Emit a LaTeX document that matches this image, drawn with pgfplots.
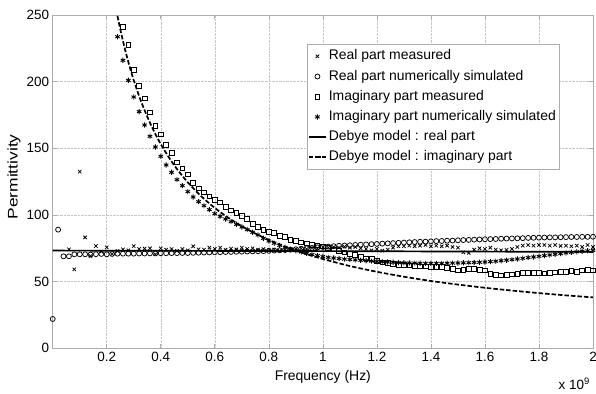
\documentclass[border=0pt]{standalone}
\usepackage{fontspec}
\setmainfont{Liberation Sans}
\usepackage{pgfplots}
\pgfplotsset{compat=1.18}
\begin{document}
\begin{tikzpicture}
\path[use as bounding box] (-52.7bp,-45.7bp) rectangle (543.3bp,348.3bp);
\begin{axis}[
  name=ax,
  at={(0,0)}, anchor=south west,
  scale only axis, width=540.3bp, height=333.3bp,
  xmin=0, xmax=2, ymin=0, ymax=250,
  xtick={0.2,0.4,0.6,0.8,1,1.2,1.4,1.6,1.8,2},
  xticklabels={0.2,0.4,0.6,0.8,1,1.2,1.4,1.6,1.8,2},
  ytick={0,50,100,150,200,250},
  scaled x ticks=false,
  tick align=inside,
  major tick length=4bp,
  grid=major,
  major grid style={gray!45, densely dotted, line width=0.5bp},
  axis line style={gray!65, line width=0.6bp},
  every tick/.style={gray!65, line width=0.6bp},
  /pgf/number format/assume math mode=true,
  tick label style={font=\fontsize{13.5}{15}\selectfont, black},
  xlabel={Frequency (Hz)},
  ylabel={\scalebox{1.25}[1]{Permittivity}},
  label style={font=\fontsize{14}{16}\selectfont},
  xlabel style={at={(axis description cs:0.5,-0.086)}, anchor=center},
  ylabel style={at={(axis description cs:-0.0716,0.514)}, anchor=center},
  legend style={at={(axis cs:0.9407,228.2)}, anchor=north west,
    draw=gray!65, line width=0.5bp, fill=white,
    font=\fontsize{14}{16}\selectfont,
    inner xsep=1bp, inner ysep=3.5bp,
    row sep=3.2bp,
    nodes={inner xsep=2bp, inner ysep=2bp, text height=10bp, text depth=3bp}},
  legend cell align=left,
]
% Real part measured
\addplot[only marks, mark=x, mark size=2.4bp, black, mark options={line width=0.75bp}] coordinates {
(0.06,74.2)(0.08,59.2)(0.10,132.5)(0.12,83.2)(0.14,69.2)(0.16,76.7)(0.18,72.5)(0.20,75.7)
(0.22,70.7)(0.24,73)(0.26,74.2)(0.28,73.5)(0.30,76.7)(0.32,74.5)(0.34,74.8)(0.36,75)
(0.38,70.5)(0.40,75)(0.42,74)(0.44,74.5)(0.46,73)(0.48,74.5)(0.50,73.5)(0.52,76.5)
(0.54,74.2)(0.56,74)(0.58,75.5)(0.60,74.5)(0.62,75.5)(0.64,74)(0.66,74.8)(0.68,74.2)
(0.70,75.5)(0.72,74.5)(0.74,75)(0.76,74)(0.78,74.5)(0.80,73.5)(0.82,74)(0.84,73.2)
(0.86,74)(0.88,73.5)(0.90,74.5)(0.92,75)(0.94,74.5)(0.96,75.5)(0.98,75)(1.00,76)
(1.02,75.5)(1.04,76)(1.06,75.5)(1.08,76.2)(1.10,75.5)(1.12,76)(1.14,75)(1.16,74.5)
(1.18,73.5)(1.20,74.5)(1.22,73.2)(1.24,74)(1.26,75.5)(1.28,76.5)(1.30,76.5)(1.32,77)
(1.34,76.5)(1.36,77)(1.38,77.5)(1.40,76.5)(1.42,77)(1.44,76.5)(1.46,77)(1.48,76)
(1.50,75.5)(1.52,72)(1.54,71.5)(1.56,74)(1.58,75)(1.60,74.5)(1.62,75.5)(1.64,74)
(1.66,73.5)(1.68,73.8)(1.70,74.5)(1.72,76)(1.74,77)(1.76,77.5)(1.78,77)(1.80,77.5)
(1.82,77.5)(1.84,77)(1.86,77.5)(1.88,76.8)(1.90,77)(1.92,76.5)(1.94,77)(1.96,76)
(1.98,77.5)(2.00,76)};
\addlegendentry{Real part measured}
% Real part numerically simulated
\addplot[only marks, mark=o, mark size=2.5bp, black, mark options={line width=0.75bp}] coordinates {
(0,22)(0.02,89)(0.04,69)(0.06,69)(0.08,70.5)(0.10,70.5)(0.12,70.5)(0.14,70.3)(0.16,70.6)
(0.18,70.8)(0.20,70.5)(0.22,70.8)(0.24,71)(0.26,71)(0.28,71)(0.30,71)(0.32,71.1)(0.34,71.1)
(0.36,71.2)(0.38,71.2)(0.40,71.3)(0.42,71.3)(0.44,71.4)(0.46,71.4)(0.48,71.5)(0.50,71.5)
(0.52,71.6)(0.54,71.7)(0.56,71.8)(0.58,71.9)(0.60,72)(0.62,72.1)(0.64,72.2)(0.66,72.3)
(0.68,72.4)(0.70,72.5)(0.72,72.6)(0.74,72.7)(0.76,72.8)(0.78,72.9)(0.80,73.1)(0.82,73.3)
(0.84,73.5)(0.86,73.7)(0.88,74)(0.90,74.3)(0.92,74.6)(0.94,75)(0.96,75.3)(0.98,75.7)
(1.00,76)(1.02,76.3)(1.04,76.6)(1.06,76.9)(1.08,77.1)(1.10,77.3)(1.12,77.5)(1.14,77.7)
(1.16,77.9)(1.18,78.1)(1.20,78.3)(1.22,78.5)(1.24,78.7)(1.26,78.9)(1.28,79.1)(1.30,79.3)
(1.32,79.5)(1.34,79.7)(1.36,79.9)(1.38,80)(1.40,80.2)(1.42,80.4)(1.44,80.5)(1.46,80.7)
(1.48,80.8)(1.50,81)(1.52,81.2)(1.54,81.3)(1.56,81.5)(1.58,81.6)(1.60,81.8)(1.62,81.9)
(1.64,82)(1.66,82.2)(1.68,82.3)(1.70,82.4)(1.72,82.5)(1.74,82.6)(1.76,82.8)(1.78,82.9)
(1.80,83)(1.82,83.1)(1.84,83.2)(1.86,83.2)(1.88,83.3)(1.90,83.4)(1.92,83.5)(1.94,83.5)
(1.96,83.6)(1.98,83.6)(2.00,83.7)};
\addlegendentry{Real part numerically simulated}
% Imaginary part measured
\addplot[only marks, mark=square, mark size=2.4bp, black, mark options={line width=0.75bp}] coordinates {
(0.26,241)(0.28,227.5)(0.30,209)(0.32,197)(0.34,187.5)(0.36,177)(0.38,167)(0.40,160.5)
(0.42,152.5)(0.44,146.5)(0.46,139.5)(0.48,135)(0.50,130.5)(0.52,124)(0.54,120)(0.56,117)
(0.58,114)(0.60,111.5)(0.62,109.5)(0.64,106)(0.66,103.5)(0.68,101.5)(0.70,99.5)(0.72,97)
(0.74,93.5)(0.76,91)(0.78,88.7)(0.80,87.5)(0.82,86.5)(0.84,84.5)(0.86,83.5)(0.88,81.5)
(0.90,80.5)(0.92,79.5)(0.94,78.7)(0.96,77.8)(0.98,77.2)(1.00,76.5)(1.02,75.5)(1.04,74.2)
(1.06,73.2)(1.08,72)(1.10,71)(1.12,70.2)(1.14,68.5)(1.16,67.5)(1.18,66.8)(1.20,65.5)
(1.22,64.5)(1.24,63.8)(1.26,63.5)(1.28,62.8)(1.30,62.5)(1.32,62.2)(1.34,62)(1.36,61.5)
(1.38,61.5)(1.40,61)(1.42,60.8)(1.44,61)(1.46,60.5)(1.48,59.5)(1.50,58.5)(1.52,58.7)
(1.54,59.7)(1.56,59.8)(1.58,59)(1.60,58.5)(1.62,56)(1.64,55)(1.66,54.7)(1.68,55)
(1.70,55.5)(1.72,56)(1.74,56.5)(1.76,56.8)(1.78,56.8)(1.80,56.5)(1.82,56.2)(1.84,56.8)
(1.86,57)(1.88,57.3)(1.90,57.5)(1.92,58)(1.94,57.5)(1.96,58.5)(1.98,58.8)(2.00,58.5)};
\addlegendentry{Imaginary part measured}
% Imaginary part numerically simulated
\addplot[only marks, mark=asterisk, mark size=2.6bp, black, mark options={line width=0.9bp}] coordinates {
(0.24,233.7)(0.26,216)(0.28,201)(0.30,188.5)(0.32,177.5)(0.34,167.5)(0.36,159)(0.38,151)
(0.40,144)(0.42,137.5)(0.44,132)(0.46,126.5)(0.48,122)(0.50,117.5)(0.52,113.5)(0.54,110)
(0.56,107)(0.58,104)(0.60,101)(0.62,99)(0.64,97)(0.66,95)(0.68,93)(0.70,91)
(0.72,89)(0.74,87)(0.76,85)(0.78,82.5)(0.80,80.5)(0.82,78.8)(0.84,77.2)(0.86,75.7)
(0.88,74.4)(0.90,73.2)(0.92,72.2)(0.94,71.2)(0.96,70.3)(0.98,69.5)(1.00,68.8)(1.02,68.2)
(1.04,67.7)(1.06,67.3)(1.08,66.9)(1.10,66.6)(1.12,66.3)(1.14,66.0)(1.16,65.7)(1.18,65.4)
(1.20,65.1)(1.22,64.9)(1.24,64.7)(1.26,64.5)(1.28,64.3)(1.30,64.1)(1.32,64.0)(1.34,63.9)
(1.36,63.8)(1.38,63.7)(1.40,63.7)(1.42,63.7)(1.44,63.7)(1.46,63.8)(1.48,63.9)(1.50,64.0)
(1.52,64.1)(1.54,64.2)(1.56,64.4)(1.58,64.5)(1.60,64.7)(1.62,65.0)(1.64,65.3)(1.66,65.7)
(1.68,66.1)(1.70,66.5)(1.72,67.0)(1.74,67.5)(1.76,68.0)(1.78,68.5)(1.80,69.0)(1.82,69.5)
(1.84,70.0)(1.86,70.5)(1.88,71.0)(1.90,71.5)(1.92,72.0)(1.94,72.4)(1.96,72.8)(1.98,73.1)
(2.00,73.4)};
\addlegendentry{Imaginary part numerically simulated}
% Debye real
\addplot[black, line width=1.7bp] coordinates {
(0,73.3)(0.5,73.1)(1.0,72.9)(1.5,72.6)(2.0,72.3)};
\addlegendentry{Debye model : real part}
% Debye imaginary
\addplot[black, line width=1.7bp, dash pattern=on 4.5bp off 2bp, smooth] coordinates {
(0.235,254.1)(0.24,249)(0.25,239.5)(0.26,230.6)(0.27,222.4)(0.28,214.8)(0.29,207.7)(0.30,201.1)
(0.32,189.1)(0.34,178.6)(0.36,169.2)(0.38,160.8)(0.40,153.2)(0.43,143.2)(0.46,134.5)
(0.50,124.5)(0.55,114)(0.60,105.3)(0.65,97.9)(0.70,91.6)(0.75,86.1)(0.80,81.3)(0.85,77.1)
(0.90,73.3)(0.95,70)(1.00,67)(1.10,61.7)(1.20,57.4)(1.30,53.7)(1.40,50.5)(1.50,47.8)
(1.60,45.4)(1.70,43.3)(1.80,41.4)(1.90,39.7)(2.00,38.2)};
\addlegendentry{Debye model : imaginary part}
\end{axis}
\node[anchor=north east, font=\fontsize{13.5}{15}\selectfont, inner sep=0pt] at ([xshift=-3bp,yshift=-29bp]ax.south east) {x 10\textsuperscript{9}};
\end{tikzpicture}
\end{document}
